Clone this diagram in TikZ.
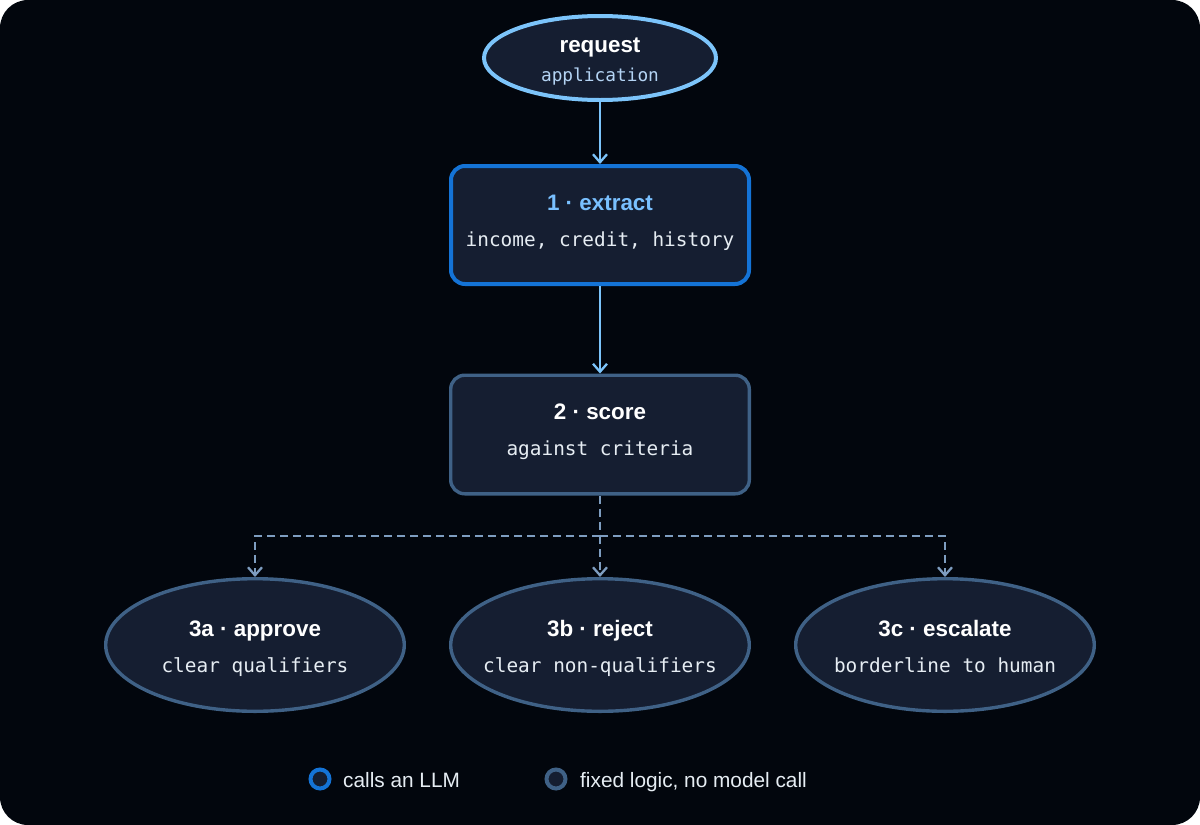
\documentclass[tikz,border=0pt]{standalone}
\usepackage{fontspec}
\setmainfont{Liberation Sans}
\setmonofont{DejaVu Sans Mono}
\usetikzlibrary{shapes.geometric,arrows.meta}
\definecolor{bgc}{HTML}{02060D}
\definecolor{nodefill}{HTML}{151E31}
\definecolor{lightblue}{HTML}{7CC4FA}
\definecolor{llmblue}{HTML}{1473D6}
\definecolor{fixedblue}{HTML}{3F6186}
\definecolor{dashc}{HTML}{7E9DC0}
\definecolor{titleblue}{HTML}{79C0FF}
\definecolor{subtext}{HTML}{E6EDF3}
\definecolor{apptext}{HTML}{B4D4F4}
\tikzset{
  ovalnode/.style={ellipse, fill=nodefill, inner sep=0pt},
  boxnode/.style={rectangle, rounded corners=14pt, fill=nodefill, inner sep=0pt,
    minimum width=298pt, minimum height=118pt},
  titletext/.style={anchor=base, text=white, font=\fontsize{22.4}{26}\selectfont\bfseries, inner sep=0pt},
  subtextst/.style={anchor=base, text=subtext, font=\fontsize{19.4}{23}\selectfont\ttfamily, inner sep=0pt},
  legtext/.style={anchor=base west, text=subtext, font=\fontsize{20.8}{24}\selectfont, inner sep=0pt},
  solidarrow/.style={draw=lightblue, line width=2.3pt, -{Straight Barb[length=8pt,width=14pt,line width=2.3pt]}},
  dasharrow/.style={draw=dashc, line width=2.3pt, dash pattern=on 8pt off 5pt, -{Straight Barb[length=8pt,width=14pt,line width=2.3pt]}},
  dashline/.style={draw=dashc, line width=2.3pt, dash pattern=on 8pt off 5pt},
}
\begin{document}
\begin{tikzpicture}[x=1pt,y=-1pt]
\useasboundingbox (0,0) rectangle (1200,825);
\fill[white] (0,0) rectangle (1200,825);
\fill[bgc, rounded corners=28pt] (0,0) rectangle (1200,825);

% request
\node[ovalnode, draw=lightblue, line width=4pt, minimum width=232pt, minimum height=84pt] (req) at (600,58) {};
\node[titletext] (reqt) at (600,52) {request};
\node[subtextst, text=apptext, font=\fontsize{17.8}{21}\selectfont\ttfamily] (reqs) at (600,81) {application};

% step 1
\node[boxnode, draw=llmblue, line width=4pt] (b1) at (600,225) {};
\node[titletext, text=titleblue] (b1t) at (600,210) {1 · extract};
\node[subtextst] (b1s) at (600,246) {income, credit, history};

% step 2
\node[boxnode, draw=fixedblue, line width=3.4pt, minimum width=298.6pt, minimum height=118.6pt] (b2) at (600,434.5) {};
\node[titletext] (b2t) at (600,419.5) {2 · score};
\node[subtextst] (b2s) at (600,455.5) {against criteria};

% outcomes
\node[ovalnode, draw=fixedblue, line width=3.4pt, minimum width=298.6pt, minimum height=132.6pt] (ea) at (255,645) {};
\node[titletext] (eat) at (255,636) {3a · approve};
\node[subtextst] (eas) at (255,672) {clear qualifiers};

\node[ovalnode, draw=fixedblue, line width=3.4pt, minimum width=298.6pt, minimum height=132.6pt] (eb) at (600,645) {};
\node[titletext] (ebt) at (600,636) {3b · reject};
\node[subtextst] (ebs) at (600,672) {clear non-qualifiers};

\node[ovalnode, draw=fixedblue, line width=3.4pt, minimum width=298.6pt, minimum height=132.6pt] (ec) at (945,645) {};
\node[titletext] (ect) at (945,636) {3c · escalate};
\node[subtextst] (ecs) at (945,672) {borderline to human};

% connectors
\draw[solidarrow] (req.south) -- (b1.north);
\draw[solidarrow] (b1.south) -- (b2.north);
\coordinate (j) at (600,536);
\draw[dashline] (b2.south) -- (j);
\draw[dasharrow] (j) -| (ea.north);
\draw[dasharrow] (j) -| (ec.north);
\draw[dasharrow] (j) -- (eb.north);

% legend
\node[circle, draw=llmblue, fill=nodefill, line width=4pt, minimum size=19pt, inner sep=0pt] (lg1) at (320,779) {};
\node[legtext] (lg1t) at (343,787) {calls an LLM};
\node[circle, draw=fixedblue, fill=nodefill, line width=4pt, minimum size=19pt, inner sep=0pt] (lg2) at (556,779) {};
\node[legtext] (lg2t) at (580,787) {fixed logic, no model call};
\end{tikzpicture}
\end{document}
